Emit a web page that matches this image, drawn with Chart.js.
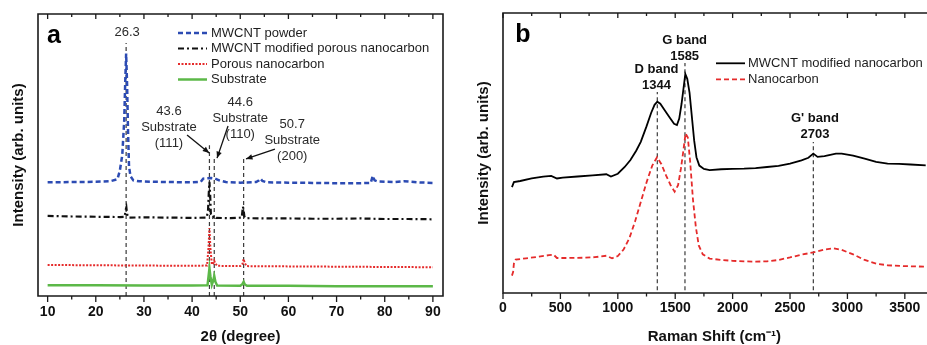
<!DOCTYPE html>
<html><head><meta charset="utf-8">
<script src="https://cdn.jsdelivr.net/npm/chart.js@4.4.0/dist/chart.umd.min.js"></script>
<style>
html,body{margin:0;padding:0;background:#fff;overflow:hidden}
#wrap{position:relative;width:927px;height:345px;background:#fff}
#ca{position:absolute;left:0;top:0}
#cb{position:absolute;left:460px;top:0}
</style></head><body>
<div id="wrap">
<canvas id="ca" width="460" height="345"></canvas>
<canvas id="cb" width="467" height="345"></canvas>
</div>
<script>
// ---------------- Panel a : XRD ----------------
const xrdTicksMajor = [10, 20, 30, 40, 50, 60, 70, 80, 90];
const xrdTicksMinor = [15, 25, 35, 45, 55, 65, 75, 85];
const xrdSeriesNames = ["MWCNT powder", "MWCNT modified porous nanocarbon", "Porous nanocarbon", "Substrate"];

const powderX = [10, 15, 20, 23, 24.5, 25.0, 25.5, 25.9, 26.1, 26.3, 26.5, 26.7, 26.9, 27.2, 27.8, 29, 32, 36, 40, 41.8, 42.3, 43, 44, 44.8, 45.6, 47, 50, 53.3, 53.9, 54.2, 54.6, 55.5, 60, 65, 70, 75, 77.1, 77.5, 77.9, 78.5, 82, 84, 87, 90];
const powderY = [40.3, 40.4, 40.5, 40.7, 41.4, 44.5, 50, 62, 75, 86, 75, 58, 46, 42.5, 41.0, 40.7, 40.5, 40.4, 40.3, 40.5, 41.6, 41.7, 41.8, 41.6, 41.0, 40.4, 40.2, 40.4, 41.0, 41.6, 40.8, 40.3, 40.2, 40.1, 40.0, 40.0, 40.1, 42.6, 41.0, 40.6, 40.4, 40.7, 40.3, 40.1];

const modX = [10, 15, 20, 25, 26.0, 26.2, 26.35, 26.5, 26.8, 30, 35, 40, 43.0, 43.3, 43.45, 43.6, 43.75, 43.9, 44.3, 44.6, 45, 48, 50.3, 50.55, 50.7, 50.85, 51.1, 55, 60, 65, 70, 75, 80, 85, 90];
const modY = [28.4, 28.2, 28.1, 28.0, 28.1, 30.5, 31.4, 29, 27.8, 27.9, 27.8, 27.7, 27.8, 30, 36, 40.5, 36, 29, 27.9, 28.5, 27.7, 27.6, 27.8, 31.7, 30.5, 28.2, 27.6, 27.5, 27.5, 27.4, 27.4, 27.5, 27.3, 27.3, 27.2];

const porousX = [10, 20, 30, 40, 43.1, 43.4, 43.6, 43.8, 44.1, 44.4, 44.6, 44.8, 45.2, 50, 50.5, 50.7, 50.9, 51.3, 60, 70, 80, 90];
const porousY = [11.0, 10.9, 10.8, 10.7, 10.8, 17, 24.1, 17, 11.2, 11.5, 12.5, 11.6, 10.7, 10.6, 11.5, 13.1, 11.8, 10.6, 10.5, 10.4, 10.3, 10.2];

const substrateX = [10, 20, 30, 40, 43.2, 43.45, 43.6, 43.8, 44.1, 44.4, 44.6, 44.85, 45.2, 50, 50.45, 50.7, 50.95, 51.4, 60, 70, 80, 90];
const substrateY = [3.8, 3.8, 3.7, 3.7, 3.8, 7.5, 9.8, 7, 4.0, 5.5, 7.1, 5, 3.7, 3.6, 4.2, 5.0, 4.1, 3.6, 3.6, 3.5, 3.5, 3.5];

const xrdRefX = [26.3, 43.6, 44.6, 50.7];
const xrdRefTop = [89.7, 53.5, 48.9, 48.6];
const xrdRefBottom = [0, 0, 0, 0];

// ---------------- Panel b : Raman ----------------
const ramanTicksMajor = [0, 500, 1000, 1500, 2000, 2500, 3000, 3500];
const ramanTicksMinor = [250, 750, 1250, 1750, 2250, 2750, 3250];
const ramanSeriesNames = ["MWCNT modified nanocarbon", "Nanocarbon"];

const ramanModX = [78, 95, 150, 250, 350, 420, 470, 520, 650, 780, 900, 940, 1000, 1060, 1110, 1160, 1200, 1250, 1290, 1320, 1344, 1370, 1410, 1450, 1490, 1515, 1535, 1555, 1572, 1588, 1605, 1625, 1645, 1665, 1685, 1710, 1750, 1800, 1900, 2000, 2100, 2200, 2300, 2400, 2500, 2600, 2660, 2703, 2740, 2800, 2900, 2950, 3050, 3150, 3250, 3350, 3450, 3550, 3683];
const ramanModY = [37.8, 39.6, 40.0, 40.9, 41.6, 41.8, 40.9, 41.2, 41.6, 42.0, 42.4, 41.6, 42.6, 45.0, 47.5, 50.8, 54.0, 59.5, 64.3, 67.2, 68.3, 67.6, 65.2, 62.8, 60.4, 60.0, 62.3, 67.5, 73.0, 78.2, 76.5, 71.5, 63.0, 54.5, 48.5, 45.5, 44.3, 43.9, 44.2, 44.3, 44.4, 44.6, 45.0, 45.4, 46.2, 47.4, 48.3, 49.8, 48.6, 48.9, 49.8, 49.8, 49.1, 48.0, 46.8, 46.2, 46.1, 45.9, 45.6];

const ramanNanoX = [78, 88, 95, 110, 200, 300, 400, 440, 470, 550, 700, 800, 900, 950, 1000, 1050, 1100, 1150, 1200, 1250, 1300, 1342, 1380, 1420, 1460, 1495, 1525, 1550, 1570, 1590, 1610, 1630, 1655, 1680, 1705, 1740, 1800, 1900, 2000, 2100, 2200, 2300, 2400, 2500, 2600, 2703, 2800, 2880, 2950, 3050, 3150, 3250, 3350, 3500, 3683];
const ramanNanoY = [6.2, 7.5, 10.5, 11.9, 12.4, 12.9, 13.5, 13.7, 12.5, 12.5, 12.6, 12.8, 13.3, 12.4, 13.2, 15.5, 19.5, 25.5, 32.5, 39.5, 45.5, 48.5, 46, 42, 38.5, 36.2, 38.5, 44.5, 50.5, 57.0, 55.5, 47.0, 33.2, 23.5, 17, 13.8, 12.3, 11.8, 11.5, 11.3, 11.2, 11.3, 11.8, 12.7, 13.7, 14.5, 15.5, 16.0, 15.4, 13.8, 11.8, 10.5, 9.9, 9.6, 9.4];

const ramanRefX = [1344, 1585, 2703];
const ramanRefTop = [71.8, 82.1, 53.9];
const ramanRefBottom = [1, 1, 1];

// ---------------- helpers ----------------
const FONT = "'Liberation Sans', Arial, sans-serif";
const pts = (xs, ys) => xs.map((x, i) => ({x: x, y: ys[i]}));
function refSets(xs, tops, bottoms) {
  return xs.map((x, i) => ({
    label: 'ref', data: [{x: x, y: bottoms[i]}, {x: x, y: tops[i]}],
    borderColor: '#3a3a3a', borderWidth: 1.2, borderDash: [4, 3], pointRadius: 0, fill: false, tension: 0
  }));
}

function framePlugin(major, minor, fullBox) {
  return {
    id: 'frameTicks',
    afterDatasetsDraw(chart) {
      const {ctx, chartArea: a} = chart;
      const x = chart.scales.x;
      ctx.save();
      ctx.strokeStyle = '#1a1a1a';
      ctx.lineWidth = 1.6;
      ctx.setLineDash([]);
      ctx.beginPath();
      if (fullBox) {
        ctx.rect(a.left, a.top, a.right - a.left, a.bottom - a.top);
      } else {
        ctx.moveTo(a.right + 2, a.top); ctx.lineTo(a.left, a.top);
        ctx.lineTo(a.left, a.bottom); ctx.lineTo(a.right + 2, a.bottom);
      }
      ctx.stroke();
      ctx.lineWidth = 1.3;
      ctx.beginPath();
      major.forEach(v => {
        const p = x.getPixelForValue(v);
        ctx.moveTo(p, a.bottom); ctx.lineTo(p, a.bottom + 6);
        ctx.moveTo(p, a.top); ctx.lineTo(p, a.top + 5);
      });
      minor.forEach(v => {
        const p = x.getPixelForValue(v);
        ctx.moveTo(p, a.bottom); ctx.lineTo(p, a.bottom + 3.5);
        ctx.moveTo(p, a.top); ctx.lineTo(p, a.top + 3);
      });
      ctx.stroke();
      ctx.restore();
    }
  };
}

function legendPlugin(names, dsIndex, lx0, lx1, tx, ys) {
  return {
    id: 'customLegend',
    afterDraw(chart) {
      const ctx = chart.ctx;
      ctx.save();
      ctx.font = '13px ' + FONT;
      ctx.textBaseline = 'middle';
      ctx.textAlign = 'left';
      names.forEach((n, i) => {
        const ds = chart.data.datasets[dsIndex[i]];
        ctx.strokeStyle = ds.borderColor;
        ctx.lineWidth = ds.borderWidth;
        ctx.setLineDash(ds.borderDash || []);
        ctx.beginPath(); ctx.moveTo(lx0, ys[i]); ctx.lineTo(lx1, ys[i]); ctx.stroke();
        ctx.setLineDash([]);
        ctx.fillStyle = '#1e1e1e';
        ctx.fillText(n, tx, ys[i]);
      });
      ctx.restore();
    }
  };
}

function arrow(ctx, x0, y0, x1, y1) {
  ctx.beginPath(); ctx.moveTo(x0, y0); ctx.lineTo(x1, y1); ctx.stroke();
  const ang = Math.atan2(y1 - y0, x1 - x0), L = 7, W = 0.4;
  ctx.beginPath();
  ctx.moveTo(x1, y1);
  ctx.lineTo(x1 - L * Math.cos(ang - W), y1 - L * Math.sin(ang - W));
  ctx.lineTo(x1 - L * Math.cos(ang + W), y1 - L * Math.sin(ang + W));
  ctx.closePath(); ctx.fill();
}

// ---------------- annotations a ----------------
const xrdNotes = [
  {x: 26.5, y: 93.3, lines: ['26.3']},
  {x: 35.2, y: 65.6, lines: ['43.6', 'Substrate', '(111)']},
  {x: 50.0, y: 68.8, lines: ['44.6', 'Substrate', '(110)']},
  {x: 60.8, y: 61.0, lines: ['50.7', 'Substrate', '(200)']}
];
const xrdArrows = [
  [38.95, 57.1, 43.55, 50.7],
  [47.46, 60.3, 45.18, 48.9],
  [57.2, 52.1, 51.2, 48.6]
];
const notesA = {
  id: 'notesA',
  afterDraw(chart) {
    const {ctx} = chart; const x = chart.scales.x, y = chart.scales.y;
    ctx.save();
    ctx.font = '13px ' + FONT; ctx.fillStyle = '#2a2a2a';
    ctx.textAlign = 'center'; ctx.textBaseline = 'middle';
    xrdNotes.forEach(n => {
      const px = x.getPixelForValue(n.x), py = y.getPixelForValue(n.y);
      n.lines.forEach((t, i) => ctx.fillText(t, px, py + i * 16));
    });
    ctx.strokeStyle = '#111'; ctx.fillStyle = '#111'; ctx.lineWidth = 1.3;
    xrdArrows.forEach(a => arrow(ctx, x.getPixelForValue(a[0]), y.getPixelForValue(a[1]), x.getPixelForValue(a[2]), y.getPixelForValue(a[3])));
    ctx.font = 'bold 25px ' + FONT; ctx.fillStyle = '#000';
    ctx.fillText('a', 54, 36);
    ctx.restore();
  }
};

// ---------------- annotations b ----------------
const ramanNotes = [
  {x: 1582, y: 90.1, lines: ['G band', '1585']},
  {x: 1337, y: 80.0, lines: ['D band', '1344']},
  {x: 2717, y: 62.4, lines: ["G' band", '2703']}
];
const notesB = {
  id: 'notesB',
  afterDraw(chart) {
    const {ctx} = chart; const x = chart.scales.x, y = chart.scales.y;
    ctx.save();
    ctx.font = 'bold 13px ' + FONT; ctx.fillStyle = '#111';
    ctx.textAlign = 'center'; ctx.textBaseline = 'middle';
    ramanNotes.forEach(n => {
      const px = x.getPixelForValue(n.x), py = y.getPixelForValue(n.y);
      n.lines.forEach((t, i) => ctx.fillText(t, px, py + i * 16));
    });
    ctx.font = 'bold 25px ' + FONT; ctx.fillStyle = '#000';
    ctx.fillText('b', 63, 35);
    ctx.restore();
  }
};

function axisCfg(min, max, major, xHeight, labelPad, title) {
  return {
    type: 'linear', position: 'bottom', min: min, max: max,
    afterBuildTicks: s => { s.ticks = major.map(v => ({value: v})); },
    afterFit: s => { s.height = xHeight; },
    grid: {display: false, drawTicks: false}, border: {display: false},
    ticks: {padding: labelPad, color: '#111', font: {family: FONT, size: 14, weight: 'bold'}, maxRotation: 0, autoSkip: false,
            callback: v => String(v)},
    title: {display: true, text: title, color: '#111', padding: {top: 0, bottom: 0}, font: {family: FONT, size: 15, weight: 'bold', lineHeight: 1.07}}
  };
}
function yCfg(width, titlePad) {
  return {
    min: 0, max: 100,
    afterFit: s => { s.width = width; },
    grid: {display: false, drawTicks: false}, border: {display: false},
    ticks: {display: false},
    title: {display: true, text: 'Intensity (arb. units)', color: '#111', padding: {top: titlePad, bottom: 0}, font: {family: FONT, size: 15, weight: 'bold', lineHeight: 1.2}}
  };
}

Chart.defaults.font.family = FONT;

new Chart(document.getElementById('ca'), {
  type: 'line',
  data: {
    datasets: [
      {label: xrdSeriesNames[0], data: pts(powderX, powderY), borderColor: '#2c4bb3', borderWidth: 2.5, borderDash: [5, 3], pointRadius: 0, tension: 0},
      {label: xrdSeriesNames[1], data: pts(modX, modY), borderColor: '#111111', borderWidth: 2.2, borderDash: [6, 3, 2, 3], pointRadius: 0, tension: 0},
      {label: xrdSeriesNames[2], data: pts(porousX, porousY), borderColor: '#e52b2b', borderWidth: 2.0, borderDash: [2, 1.5], pointRadius: 0, tension: 0},
      {label: xrdSeriesNames[3], data: pts(substrateX, substrateY), borderColor: '#5cb848', borderWidth: 2.5, pointRadius: 0, tension: 0}
    ].concat(refSets(xrdRefX, xrdRefTop, xrdRefBottom))
  },
  options: {
    responsive: false, animation: false, devicePixelRatio: 1,
    layout: {padding: {top: 14, right: 17, left: 0, bottom: 0}},
    plugins: {legend: {display: false}, tooltip: {enabled: false}},
    scales: {
      x: axisCfg(8, 92.1, xrdTicksMajor, 49, 7.6, '2θ (degree)'),
      y: yCfg(38, 10)
    }
  },
  plugins: [framePlugin(xrdTicksMajor, xrdTicksMinor, true), notesA,
            legendPlugin(xrdSeriesNames, [0, 1, 2, 3], 178, 207, 211, [33, 48.5, 64, 79.5])]
});

new Chart(document.getElementById('cb'), {
  type: 'line',
  data: {
    datasets: [
      {label: ramanSeriesNames[0], data: pts(ramanModX, ramanModY), borderColor: '#000000', borderWidth: 1.8, pointRadius: 0, tension: 0},
      {label: ramanSeriesNames[1], data: pts(ramanNanoX, ramanNanoY), borderColor: '#e52b2b', borderWidth: 1.8, borderDash: [5, 3], pointRadius: 0, tension: 0}
    ].concat(refSets(ramanRefX, ramanRefTop, ramanRefBottom))
  },
  options: {
    responsive: false, animation: false, devicePixelRatio: 1,
    layout: {padding: {top: 13, right: 0, left: 0, bottom: 0}},
    plugins: {legend: {display: false}, tooltip: {enabled: false}},
    scales: {
      x: axisCfg(0, 3683, ramanTicksMajor, 52, 6.6, 'Raman Shift (cm⁻¹)'),
      y: yCfg(43, 15)
    }
  },
  plugins: [framePlugin(ramanTicksMajor, ramanTicksMinor, false), notesB,
            legendPlugin(ramanSeriesNames, [0, 1], 256, 285, 288, [63.3, 79.3])]
});
</script>
</body></html>
